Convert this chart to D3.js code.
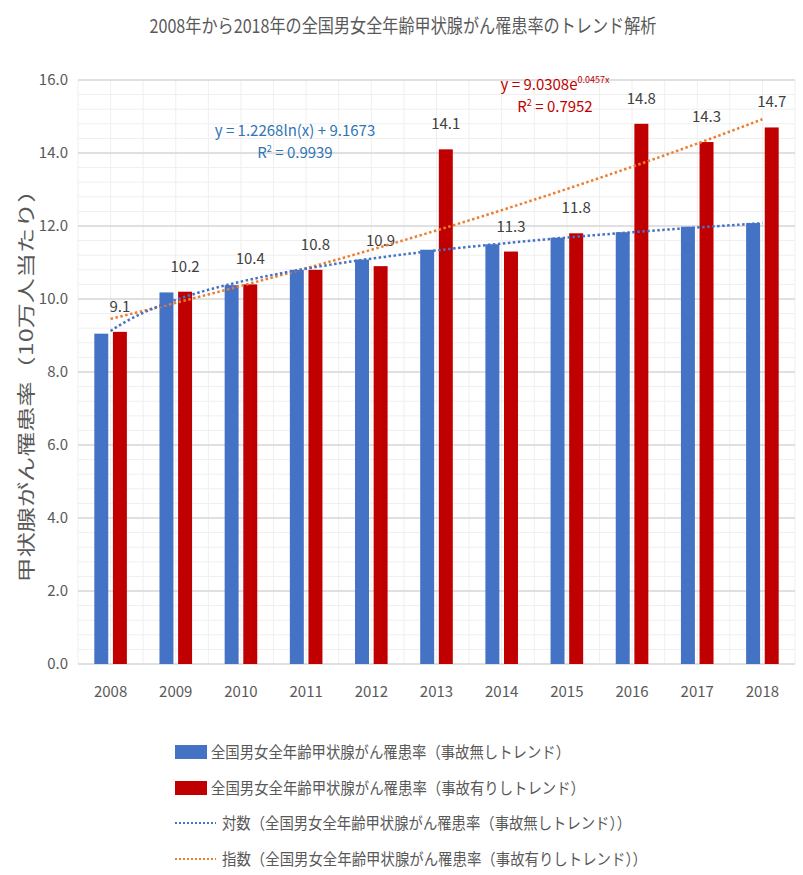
<!DOCTYPE html>
<html>
<head>
<meta charset="utf-8">
<script src="https://cdn.jsdelivr.net/npm/d3@7"></script>
<style>
  body { margin: 0; background: #fff; }
  svg text { font-family: "Noto Sans CJK JP", "Noto Sans", sans-serif; }
</style>
</head>
<body>
<div id="chart"></div>
<script>
// chart values
var years = ["2008", "2009", "2010", "2011", "2012", "2013", "2014", "2015", "2016", "2017", "2018"];
var noAccident = [9.05, 10.18, 10.38, 10.8, 11.08, 11.35, 11.5, 11.68, 11.83, 11.98, 12.08];
var withAccident = [9.1, 10.2, 10.4, 10.8, 10.9, 14.1, 11.3, 11.8, 14.8, 14.3, 14.7];
var yTicks = [0, 2, 4, 6, 8, 10, 12, 14, 16];

var seriesNames = ["全国男女全年齢甲状腺がん罹患率（事故無しトレンド）", "全国男女全年齢甲状腺がん罹患率（事故有りしトレンド）"];
var trendNames = ["対数（全国男女全年齢甲状腺がん罹患率（事故無しトレンド））", "指数（全国男女全年齢甲状腺がん罹患率（事故有りしトレンド））"];
var titleText = "2008年から2018年の全国男女全年齢甲状腺がん罹患率のトレンド解析";
var yTitleText = "甲状腺がん罹患率（10万人当たり）";

var width = 803, height = 875;
var margin = { top: 80, right: 8, bottom: 211, left: 78 };

var svg = d3.select("#chart").append("svg")
    .attr("width", width)
    .attr("height", height);

var x = d3.scaleBand()
    .domain(years)
    .range([margin.left, width - margin.right])
    .paddingInner(0.5)
    .paddingOuter(0.25);

var xSub = d3.scaleBand()
    .domain([0, 1])
    .range([0, x.bandwidth()])
    .paddingInner(0.25);

var y = d3.scaleLinear()
    .domain([0, 16])
    .range([height - margin.bottom, margin.top]);

// minor gridlines
var minorY = d3.range(0, 16.01, 0.4);
svg.append("g").selectAll("line")
    .data(minorY)
    .enter().append("line")
    .attr("x1", margin.left).attr("x2", width - margin.right)
    .attr("y1", function (d) { return y(d); }).attr("y2", function (d) { return y(d); })
    .attr("stroke", "#efefef").attr("stroke-width", 1);

var step = x.step();
var minorX = d3.range(0, years.length * 2 + 1);
svg.append("g").selectAll("line")
    .data(minorX)
    .enter().append("line")
    .attr("x1", function (d) { return margin.left + d * step / 2; })
    .attr("x2", function (d) { return margin.left + d * step / 2; })
    .attr("y1", y(16)).attr("y2", y(0))
    .attr("stroke", "#efefef").attr("stroke-width", 1);

// major gridlines
svg.append("g").selectAll("line")
    .data(yTicks)
    .enter().append("line")
    .attr("x1", margin.left).attr("x2", width - margin.right)
    .attr("y1", function (d) { return y(d); }).attr("y2", function (d) { return y(d); })
    .attr("stroke", "#d9d9d9").attr("stroke-width", 1.3);

// y axis labels
var yAxis = svg.append("g")
    .attr("transform", "translate(" + margin.left + ",0)")
    .call(d3.axisLeft(y).tickValues(yTicks).tickFormat(d3.format(".1f")).tickSize(0).tickPadding(10));
yAxis.select(".domain").remove();
yAxis.selectAll("text").attr("fill", "#595959").style("font-size", "15px");

// x axis labels
var xAxis = svg.append("g")
    .attr("transform", "translate(0," + y(0) + ")")
    .call(d3.axisBottom(x).tickSize(0).tickPadding(22));
xAxis.select(".domain").remove();
xAxis.selectAll("text").attr("fill", "#595959").style("font-size", "15px");

// bars
var colors = ["#4472C4", "#C00000"];
var rows = years.map(function (yr, i) { return { year: yr, vals: [noAccident[i], withAccident[i]] }; });

var groups = svg.append("g").selectAll("g")
    .data(rows)
    .enter().append("g")
    .attr("transform", function (d) { return "translate(" + x(d.year) + ",0)"; });

groups.selectAll("rect")
    .data(function (d) { return d.vals.map(function (v, k) { return { k: k, v: v }; }); })
    .enter().append("rect")
    .attr("x", function (d) { return xSub(d.k); })
    .attr("width", xSub.bandwidth())
    .attr("y", function (d) { return y(d.v); })
    .attr("height", function (d) { return y(0) - y(d.v); })
    .attr("fill", function (d) { return colors[d.k]; });

// data labels on the red series
groups.append("text")
    .attr("x", xSub(1) + xSub.bandwidth() / 2)
    .attr("y", function (d) { return y(d.vals[1]) - 20; })
    .attr("text-anchor", "middle")
    .attr("fill", "#404040")
    .style("font-size", "15px")
    .text(function (d) { return d3.format(".1f")(d.vals[1]); });

// trendlines fitted from the data (x = 1..11 like Excel)
function fit(xs, ys) {
    var n = xs.length, mx = d3.mean(xs), my = d3.mean(ys);
    var sxy = 0, sxx = 0;
    for (var i = 0; i < n; i++) { sxy += (xs[i] - mx) * (ys[i] - my); sxx += (xs[i] - mx) * (xs[i] - mx); }
    var b = sxy / sxx;
    return { slope: b, icpt: my - b * mx };
}
var idx = years.map(function (d, i) { return i + 1; });
var logFit = fit(idx.map(Math.log), noAccident);
var expFit = fit(idx, withAccident.map(Math.log));

var xPos = function (t) { return x(years[0]) + x.bandwidth() / 2 + (t - 1) * step; };
var samples = d3.range(1, 11.001, 0.1);

var line = d3.line()
    .x(function (d) { return xPos(d[0]); })
    .y(function (d) { return y(d[1]); })
    .curve(d3.curveLinear);

svg.append("path")
    .datum(samples.map(function (t) { return [t, Math.exp(expFit.icpt) * Math.exp(expFit.slope * t)]; }))
    .attr("d", line)
    .attr("fill", "none")
    .attr("stroke", "#ED7D31")
    .attr("stroke-width", 2.5)
    .attr("stroke-dasharray", "2.5,2.5");

svg.append("path")
    .datum(samples.map(function (t) { return [t, logFit.slope * Math.log(t) + logFit.icpt]; }))
    .attr("d", line)
    .attr("fill", "none")
    .attr("stroke", "#4472C4")
    .attr("stroke-width", 2.5)
    .attr("stroke-dasharray", "2.5,2.5");

// trendline equations
var eqBlue = svg.append("g").attr("fill", "#2E75B6").style("font-size", "15px").attr("text-anchor", "middle");
eqBlue.append("text").attr("x", 295).attr("y", 136).text("y = 1.2268ln(x) + 9.1673");
var r2b = eqBlue.append("text").attr("x", 295).attr("y", 158);
r2b.append("tspan").text("R");
r2b.append("tspan").attr("dy", -6).style("font-size", "9px").text("2");
r2b.append("tspan").attr("dy", 6).text(" = 0.9939");

var eqRed = svg.append("g").attr("fill", "#C00000").style("font-size", "15px").attr("text-anchor", "middle");
var e1 = eqRed.append("text").attr("x", 555).attr("y", 90);
e1.append("tspan").text("y = 9.0308e");
e1.append("tspan").attr("dy", -7).style("font-size", "9px").text("0.0457x");
var r2r = eqRed.append("text").attr("x", 555).attr("y", 112);
r2r.append("tspan").text("R");
r2r.append("tspan").attr("dy", -6).style("font-size", "9px").text("2");
r2r.append("tspan").attr("dy", 6).text(" = 0.7952");

// title
svg.append("text")
    .attr("x", 403).attr("y", 33)
    .attr("text-anchor", "middle")
    .attr("fill", "#595959")
    .style("font-size", "19px")
    .attr("textLength", 507)
    .attr("lengthAdjust", "spacingAndGlyphs")
    .text(titleText);

// y axis title
svg.append("text")
    .attr("transform", "translate(33,380) rotate(-90)")
    .attr("text-anchor", "middle")
    .attr("fill", "#595959")
    .style("font-size", "18px")
    .attr("textLength", 405)
    .attr("lengthAdjust", "spacingAndGlyphs")
    .text(yTitleText);

// legend
var legendY = [752, 788, 823, 859];
var legendLen = [359, 374, 409, 425];
var legend = svg.append("g");
seriesNames.forEach(function (name, i) {
    legend.append("rect")
        .attr("x", 175).attr("y", legendY[i] - 7)
        .attr("width", 32).attr("height", 14)
        .attr("fill", colors[i]);
    legend.append("text")
        .attr("x", 211).attr("y", legendY[i]).attr("dy", "0.36em")
        .attr("fill", "#595959").style("font-size", "16px")
        .attr("textLength", legendLen[i]).attr("lengthAdjust", "spacingAndGlyphs")
        .text(name);
});
var trendColors = ["#4472C4", "#ED7D31"];
trendNames.forEach(function (name, i) {
    legend.append("line")
        .attr("x1", 175).attr("x2", 216)
        .attr("y1", legendY[i + 2]).attr("y2", legendY[i + 2])
        .attr("stroke", trendColors[i]).attr("stroke-width", 2)
        .attr("stroke-dasharray", "2,2");
    legend.append("text")
        .attr("x", 222).attr("y", legendY[i + 2]).attr("dy", "0.36em")
        .attr("fill", "#595959").style("font-size", "16px")
        .attr("textLength", legendLen[i + 2]).attr("lengthAdjust", "spacingAndGlyphs")
        .text(name);
});
</script>
</body>
</html>
